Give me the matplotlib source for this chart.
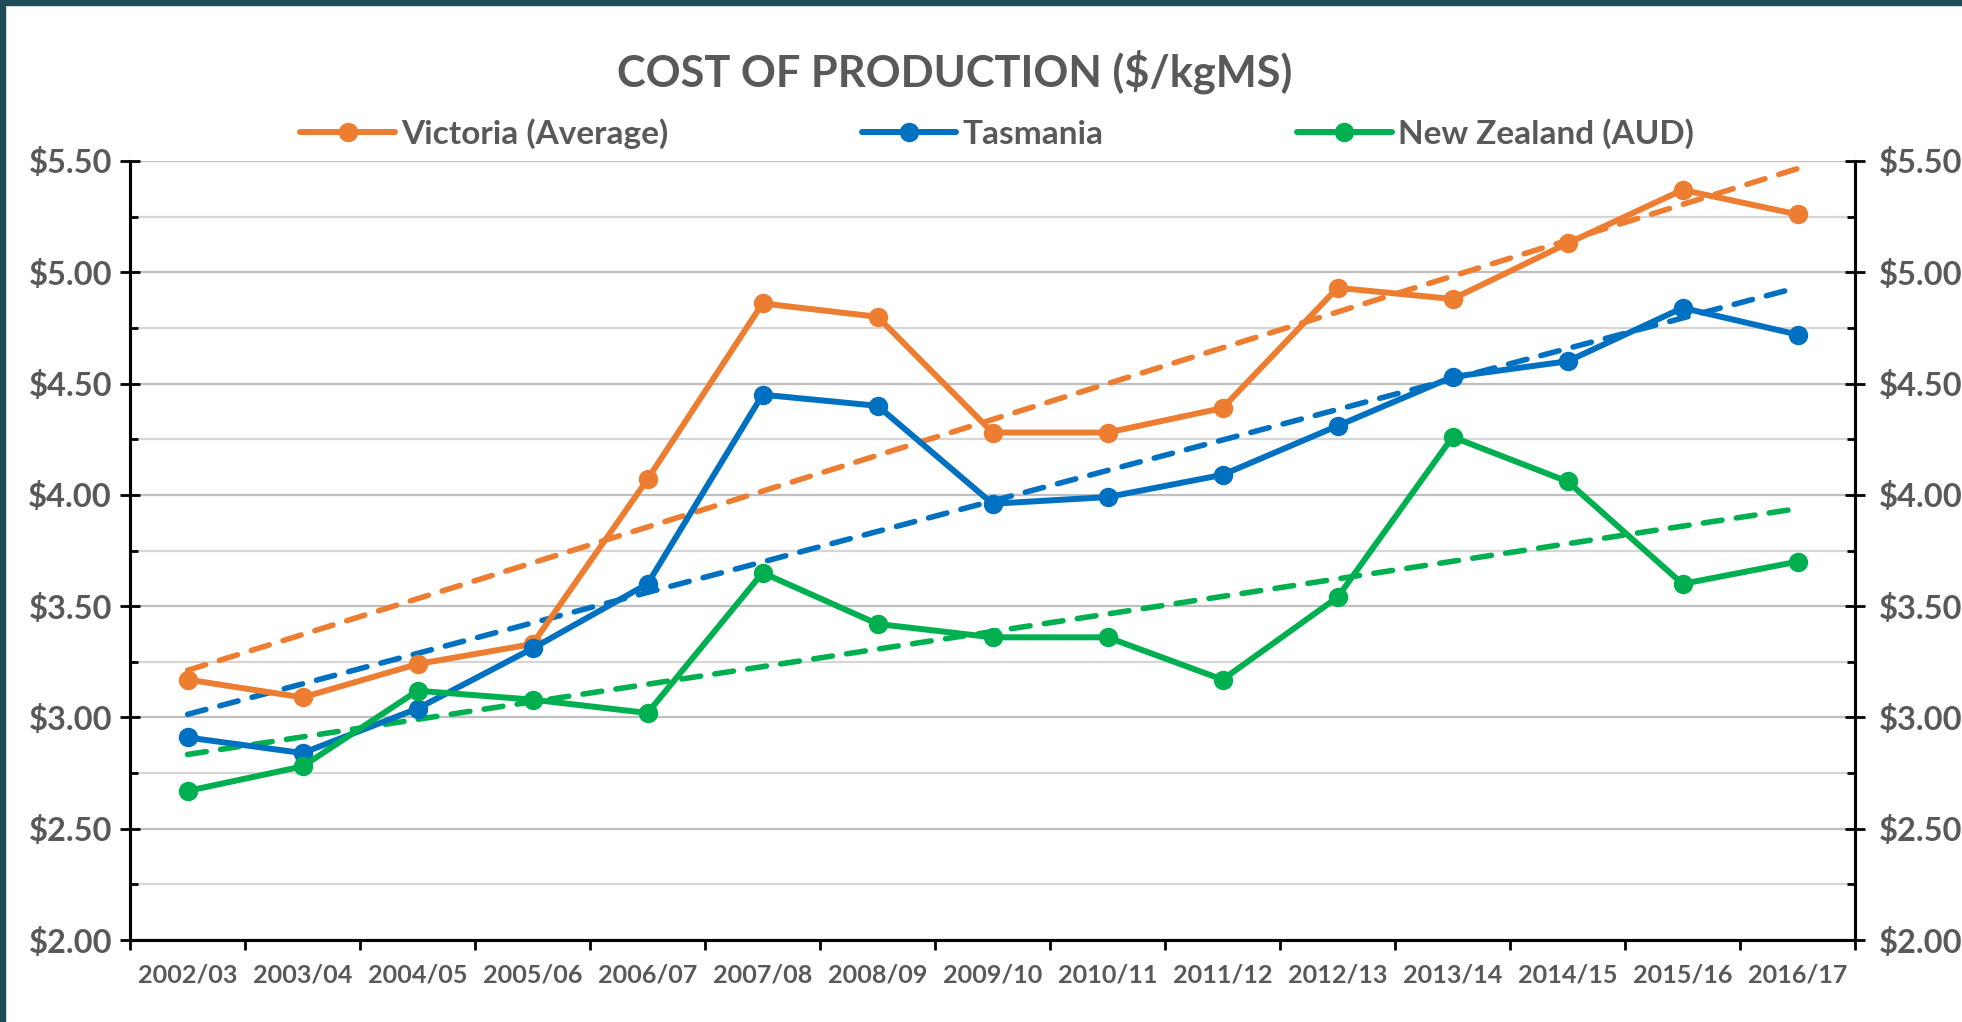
import matplotlib.pyplot as plt
import numpy as np
from matplotlib.patches import Rectangle
from matplotlib.ticker import MultipleLocator, FuncFormatter

plt.rcParams['font.family'] = ['Lato', 'DejaVu Sans']

years = ['2002/03', '2003/04', '2004/05', '2005/06', '2006/07', '2007/08', '2008/09',
         '2009/10', '2010/11', '2011/12', '2012/13', '2013/14', '2014/15', '2015/16', '2016/17']
victoria = [3.17, 3.09, 3.24, 3.33, 4.07, 4.86, 4.80, 4.28, 4.28, 4.39, 4.93, 4.88, 5.13, 5.37, 5.26]
tasmania = [2.91, 2.84, 3.04, 3.31, 3.60, 4.45, 4.40, 3.96, 3.99, 4.09, 4.31, 4.53, 4.60, 4.84, 4.72]
new_zealand = [2.67, 2.78, 3.12, 3.08, 3.02, 3.65, 3.42, 3.36, 3.36, 3.17, 3.54, 4.26, 4.06, 3.60, 3.70]

series = [
    ('Victoria (Average)', victoria, '#ED7D31'),
    ('Tasmania', tasmania, '#0070C0'),
    ('New Zealand (AUD)', new_zealand, '#00B050'),
]

TXT = '#595959'

fig = plt.figure(figsize=(19.62, 10.22), dpi=100)
ax = fig.add_axes([0.0663, 0.0802, 0.8792, 0.7623])

x = np.arange(len(years))

# linear trendlines first (under the data lines)
for name, vals, col in series:
    k, b = np.polyfit(x, vals, 1)
    ax.plot(x, k * x + b, color=col, lw=4, dashes=(3.4, 2.6),
            dash_capstyle='round', zorder=3)

handles = []
for name, vals, col in series:
    h, = ax.plot(x, vals, color=col, lw=4.3, marker='o', markersize=13,
                 solid_capstyle='round', label=name, zorder=4)
    handles.append(h)

ax.set_xlim(-0.5, len(years) - 0.5)
ax.set_ylim(2.0, 5.5)
ax.set_xticks(np.arange(len(years) + 1) - 0.5)
ax.set_xticklabels([])
ax.set_xticks(x, minor=True)
ax.set_xticklabels(years, minor=True)
ax.tick_params(axis='x', which='major', direction='out', length=7, width=2)
ax.tick_params(axis='x', which='minor', length=0, pad=17, labelsize=18.1,
               labelcolor=TXT)

fmt = FuncFormatter(lambda v, p: f'${v:.2f}')
ax2 = ax.twinx()
ax2.set_ylim(2.0, 5.5)
for a, pad in ((ax, 6), (ax2, 10)):
    a.yaxis.set_major_locator(MultipleLocator(0.5))
    a.yaxis.set_minor_locator(MultipleLocator(0.25))
    a.yaxis.set_major_formatter(fmt)
    a.tick_params(axis='y', which='major', direction='inout', length=14, width=2,
                  labelsize=23.5, labelcolor=TXT, pad=pad)
    a.tick_params(axis='y', which='minor', direction='in', length=6, width=2)
    for lab in a.get_yticklabels():
        lab.set_fontweight('bold')
    a.spines['top'].set_visible(False)
    for s in ('left', 'right', 'bottom'):
        a.spines[s].set_linewidth(2.2)
        a.spines[s].set_color('black')

for lab in ax.get_xticklabels(minor=True):
    lab.set_fontweight('bold')

ax.yaxis.grid(True, which='major', color='#bfbfbf', lw=1.6, zorder=0)
ax.yaxis.grid(True, which='minor', color='#d6d6d6', lw=1.6, zorder=0)
ax.xaxis.grid(False)
ax.set_axisbelow(True)

fig.text(0.4867, 0.930, 'COST OF PRODUCTION ($/kgMS)', ha='center', va='center',
         fontsize=31.2, fontweight='bold', color=TXT)

leg = fig.legend(handles=handles, loc='center', bbox_to_anchor=(0.5083, 0.869), ncol=3,
                 frameon=False, fontsize=24, handlelength=2.83, handletextpad=0.2,
                 columnspacing=5.8)
for t in leg.get_texts():
    t.set_color(TXT)
    t.set_fontweight('bold')

# teal frame on the left and top edges
fig.patches.append(Rectangle((0, 0), 5 / 1962, 1, transform=fig.transFigure,
                             color='#1d4c58', zorder=10))
fig.patches.append(Rectangle((0, 1 - 5 / 1022), 1, 5 / 1022, transform=fig.transFigure,
                             color='#1d4c58', zorder=10))

fig.savefig('out.png', dpi=100)
